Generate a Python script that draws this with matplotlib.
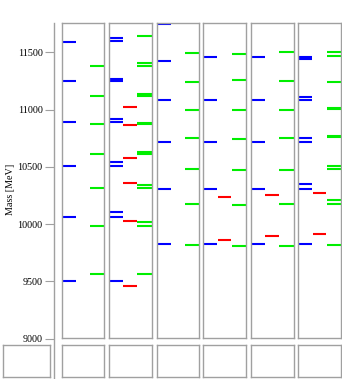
import matplotlib
matplotlib.use("Agg")
import matplotlib.pyplot as plt

plt.rcParams['font.family'] = ['Liberation Serif', 'DejaVu Serif']

# masses in MeV, one list per panel
blue_levels = [
    [9498, 10058, 10503, 10893, 11252, 11593],
    [9498, 10058, 10104, 10503, 10541, 10893, 10918, 11245, 11262, 11599, 11628],
    [9824, 10308, 10716, 11082, 11421, 11748],
    [9824, 10308, 10716, 11086, 11458],
    [9824, 10305, 10716, 11086, 11456],
    [9824, 10305, 10351, 10716, 10751, 11083, 11112, 11444, 11461],
]
red_levels = [
    [],
    [9460, 10023, 10355, 10580, 10865, 11020],
    [],
    [9859, 10232],
    [9893, 10255],
    [9912, 10268],
]
green_levels = [
    [9562, 9982, 10316, 10608, 10871, 11121, 11383],
    [9562, 9984, 10019, 10316, 10337, 10610, 10625, 10870, 10885, 11120, 11138,
     11383, 11410, 11642],
    [9812, 10171, 10477, 10748, 10996, 11236, 11492],
    [9806, 10168, 10474, 10745, 10993, 11255, 11485],
    [9809, 10171, 10474, 10748, 10996, 11249, 11503],
    [9815, 10176, 10212, 10480, 10509, 10755, 10770, 11003, 11015, 11243, 11468,
     11505],
]
y_ticks = [9000, 9500, 10000, 10500, 11000, 11500]

W, H = 342, 379
fig = plt.figure(figsize=(W / 100, H / 100), dpi=100)

ymin, ymax = 9000, 11753
edge = '#a0a0a0'

def px_box(x0, y0, x1, y1):
    # pixel box (top-left origin) -> figure fraction rect
    return [x0 / W, (H - y1) / H, (x1 - x0) / W, (y1 - y0) / H]

# y axis on its own, its line runs down past the panels
ax_y = fig.add_axes(px_box(54.3, 23.3, 60, 377.5))
ax_y.set_ylim(ymin - 38.7 / 315 * (ymax - ymin), ymax)
ax_y.set_xlim(0, 1)
for s in ['top', 'right', 'bottom']:
    ax_y.spines[s].set_visible(False)
ax_y.spines['left'].set_color(edge)
ax_y.spines['left'].set_linewidth(1.0)
ax_y.set_xticks([])
ax_y.set_yticks(y_ticks)
ax_y.set_yticklabels([str(t) for t in y_ticks], fontsize=7.3)
ax_y.tick_params(axis='y', direction='out', length=6.5, width=0.8,
                 color=edge, pad=2)
ax_y.patch.set_alpha(0)
ax_y.set_ylabel('Mass [MeV]', fontsize=7.3)
ax_y.yaxis.set_label_coords(-7.7, 0.532)
ax_y.yaxis.label.set_va('center')

panel_left = [61.7, 109.0, 156.7, 203.3, 251.0, 298.3]
panel_w = 42.7

for i, x0 in enumerate(panel_left):
    ax = fig.add_axes(px_box(x0, 23.3, x0 + panel_w, 338.3))
    ax.set_xlim(0, 1)
    ax.set_ylim(ymin, ymax)
    ax.set_xticks([])
    ax.set_yticks([])
    for s in ax.spines.values():
        s.set_color(edge)
        s.set_linewidth(1.0)
    if blue_levels[i]:
        ax.hlines(blue_levels[i], 0.0, 0.33, color='#0000ff', lw=1.5)
    if red_levels[i]:
        ax.hlines(red_levels[i], 0.335, 0.65, color='#ff0000', lw=1.5)
    if green_levels[i]:
        ax.hlines(green_levels[i], 0.665, 1.0, color='#00ee00', lw=1.5)

    # empty box under each panel
    bx = fig.add_axes(px_box(x0, 345.3, x0 + panel_w, 377.3))
    bx.set_xticks([])
    bx.set_yticks([])
    for s in bx.spines.values():
        s.set_color(edge)
        s.set_linewidth(1.0)

# empty box bottom left
bx = fig.add_axes(px_box(2.7, 345.3, 49.7, 377.3))
bx.set_xticks([])
bx.set_yticks([])
for s in bx.spines.values():
    s.set_color(edge)
    s.set_linewidth(1.0)

fig.savefig('out.png', dpi=100)
